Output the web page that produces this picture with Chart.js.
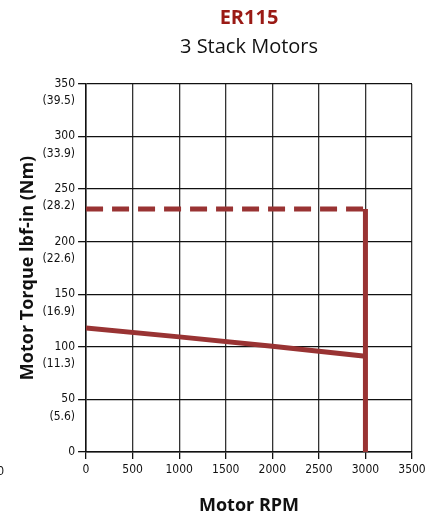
<!DOCTYPE html>
<html>
<head>
<meta charset="utf-8">
<script src="https://cdn.jsdelivr.net/npm/chart.js@4"></script>
<style>
  html, body { margin: 0; padding: 0; background: #fff; }
  #wrap { width: 442px; height: 519px; }
</style>
</head>
<body>
<div id="wrap"><canvas id="chart" width="442" height="519"></canvas></div>
<script>
// values
const rpm = [0, 1000, 2000, 3000];
const continuousTorque = [118, 109.5, 100.5, 91];
const peakRpm = [0, 3000];
const peakTorque = [231, 231];
const limitRpm = [3000, 3000];
const limitTorque = [231, 0];
const yTicks = [0, 50, 100, 150, 200, 250, 300, 350];
const yTicksNm = ["", "(5.6)", "(11.3)", "(16.9)", "(22.6)", "(28.2)", "(33.9)", "(39.5)"];

const red = "#993333";
const tickFont = { family: "'Liberation Sans Narrow', 'DejaVu Sans Condensed', sans-serif", size: 12 };

const toPoints = (xs, ys) => xs.map((x, i) => ({ x: x, y: ys[i] }));

// title drawn centred over the plot area
const titlePlugin = {
  id: "titles",
  afterDraw(chart) {
    const ctx = chart.ctx;
    const area = chart.chartArea;
    const cx = (area.left + area.right) / 2;
    ctx.save();
    ctx.textAlign = "center";
    ctx.textBaseline = "middle";
    ctx.fillStyle = "#9a1a15";
    ctx.font = "bold 20px 'Open Sans', sans-serif";
    ctx.fillText("ER115", cx, 18);
    ctx.fillStyle = "#111";
    ctx.font = "20px 'Open Sans', sans-serif";
    ctx.fillText("3 Stack Motors", cx, 47);
    // stray clipped label at the left edge
    ctx.font = "12px " + tickFont.family;
    ctx.textAlign = "right";
    ctx.fillText("0", 4, 472);
    ctx.restore();
  }
};

new Chart(document.getElementById("chart").getContext("2d"), {
  type: "line",
  data: {
    datasets: [
      {
        label: "Peak",
        data: toPoints(peakRpm, peakTorque),
        borderColor: red,
        borderWidth: 5,
        borderDash: [17, 9],
        pointRadius: 0,
        fill: false,
      },
      {
        label: "Limit",
        data: toPoints(limitRpm, limitTorque),
        borderColor: red,
        borderWidth: 5,
        borderCapStyle: "butt",
        pointRadius: 0,
        fill: false,
      },
      {
        label: "Continuous",
        data: toPoints(rpm, continuousTorque),
        borderColor: red,
        borderWidth: 5,
        pointRadius: 0,
        fill: false,
      },
    ],
  },
  options: {
    responsive: false,
    animation: false,
    layout: { padding: { top: 84, right: 30, left: 17, bottom: 2 } },
    plugins: {
      legend: { display: false },
      title: { display: false },
      tooltip: { enabled: false },
    },
    scales: {
      x: {
        type: "linear",
        min: 0,
        max: 3500,
        ticks: {
          stepSize: 500,
          color: "#111",
          font: tickFont,
          padding: 4,
          maxRotation: 0,
          callback: (v) => String(v),
        },
        grid: { color: "#333", lineWidth: 1.3, tickLength: 7, tickColor: "#111" },
        border: { color: "#111", width: 1.5 },
        title: {
          display: true,
          text: "Motor RPM",
          color: "#111",
          font: { family: "'Open Sans', sans-serif", size: 18, weight: "bold" },
          padding: { top: 14, bottom: 0 },
        },
      },
      y: {
        min: 0,
        max: 350,
        ticks: {
          stepSize: 50,
          color: "#111",
          font: { family: tickFont.family, size: 12, lineHeight: 1.45 },
          padding: 3,
          labelOffset: 8.5,
          callback: (v) => {
            const i = yTicks.indexOf(v);
            return [String(v), i >= 0 ? yTicksNm[i] : ""];
          },
        },
        grid: { color: "#111", lineWidth: 1.3, tickLength: 8, tickColor: "#111" },
        border: { color: "#111", width: 1.5 },
        title: {
          display: true,
          text: "Motor Torque lbf-in (Nm)",
          color: "#111",
          font: { family: "'Open Sans', sans-serif", size: 18, weight: "bold" },
          padding: { top: 0, bottom: 1 },
        },
      },
    },
  },
  plugins: [titlePlugin],
});
</script>
</body>
</html>
